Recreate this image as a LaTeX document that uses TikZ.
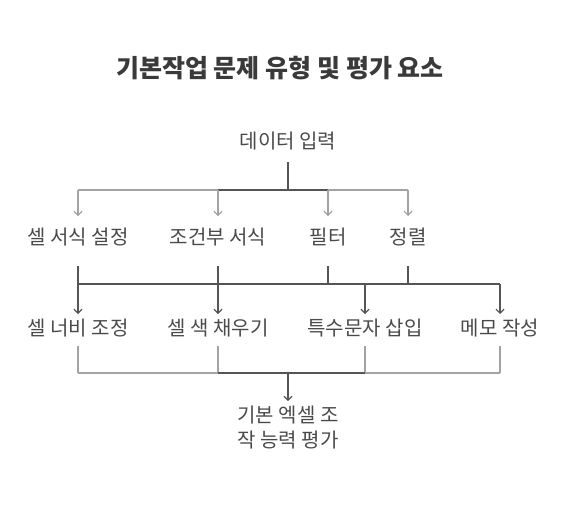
\documentclass[tikz,border=0pt]{standalone}
\usepackage{fontspec}
\setmainfont{Noto Sans CJK KR}
\usetikzlibrary{arrows.meta,calc}
\definecolor{txt}{HTML}{4A4A4A}
\definecolor{ttl}{HTML}{3A3A3A}
\definecolor{darkln}{HTML}{555555}
\definecolor{lightln}{HTML}{A3A3A3}
\tikzset{
  lbl/.style={inner sep=0pt, text=txt, font=\fontsize{20}{24}\selectfont},
  darkline/.style={draw=darkln, line width=1.5pt},
  lightline/.style={draw=lightln, line width=1.3pt},
  tip/.style={-{Straight Barb[length=4pt,width=8pt,line width=1.2pt]}},
}
\begin{document}
\begin{tikzpicture}[x=1pt,y=-1pt]
\useasboundingbox (0,0) rectangle (564,504);
\node[inner sep=0pt, text=ttl, font=\fontsize{25}{30}\selectfont\bfseries] (title) at (280,68) {기본작업 문제 유형 및 평가 요소};
\node[lbl] (in) at (288,141) {데이터 입력};
\node[lbl] (a) at (78,237) {셀 서식 설정};
\node[lbl] (b) at (218,237) {조건부 서식};
\node[lbl] (c) at (328,237) {필터};
\node[lbl] (d) at (408,237) {정렬};
\node[lbl] (e) at (78,328) {셀 너비 조정};
\node[lbl] (f) at (218,328) {셀 색 채우기};
\node[lbl] (g) at (365,328) {특수문자 삽입};
\node[lbl] (h) at (500,328) {메모 작성};
\node[lbl, align=center, font=\fontsize{20}{25}\selectfont] (out) at (288,428) {기본 엑셀 조\\작 능력 평가};
\coordinate (jt) at (288,190);
\coordinate (jm) at (288,284);
\coordinate (jb) at (288,373);
\coordinate (t1) at (288,162);
\coordinate (r1) at (0,266);
\coordinate (a2) at (0,314);
\coordinate (r2) at (0,346);
\coordinate (a1) at (0,216);
\coordinate (ob) at (288,401);
% top
\draw[darkline] (t1) -- (jt);
\draw[lightline] (a |- jt) -- (b |- jt);
\draw[lightline] (c |- jt) -- (d |- jt);
\draw[darkline] (b |- jt) -- (c |- jt);
\foreach \n in {a,b,c,d} \draw[lightline,tip] (\n |- jt) -- (\n |- a1);
% middle
\foreach \n in {a,b,c,d} \draw[darkline] (\n |- r1) -- (\n |- jm);
\draw[darkline] (a |- jm) -- (h |- jm);
\foreach \n in {e,f,g,h} \draw[darkline,tip] (\n |- jm) -- (\n |- a2);
% bottom
\foreach \n in {e,f,g,h} \draw[lightline] (\n |- r2) -- (\n |- jb);
\draw[lightline] (e |- jb) -- (f |- jb);
\draw[lightline] (g |- jb) -- (h |- jb);
\draw[darkline] (f |- jb) -- (g |- jb);
\draw[darkline,tip] (jb) -- (ob);
\end{tikzpicture}
\end{document}
